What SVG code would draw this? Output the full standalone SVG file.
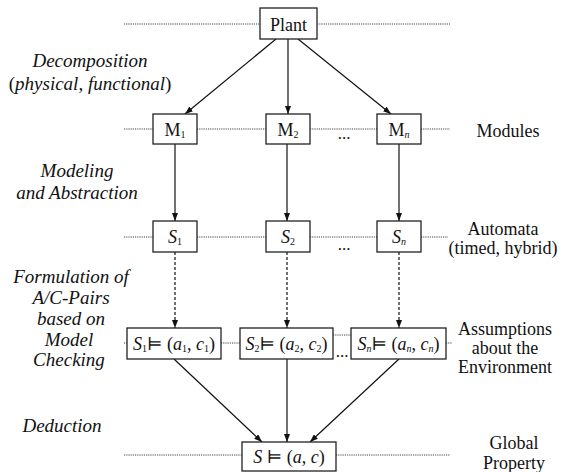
<svg xmlns="http://www.w3.org/2000/svg" width="566" height="472" viewBox="0 0 566 472" font-family="'Liberation Serif', 'Times New Roman', Tinos, 'DejaVu Serif', serif">
<defs>
<marker id="ah" viewBox="0 0 8 6" refX="8" refY="3" markerWidth="8" markerHeight="6" markerUnits="userSpaceOnUse" orient="auto">
<path d="M0,0 L8,3 L0,6 z" fill="#111"/>
</marker>
<style>
.box{fill:#fff;stroke:#222;stroke-width:1.3}
.dot{stroke:#444;stroke-width:1;stroke-dasharray:1.2 1;fill:none}
.sol{stroke:#111;stroke-width:1.2;fill:none;marker-end:url(#ah)}
.dsh{stroke:#111;stroke-width:1.2;fill:none;stroke-dasharray:3 2;marker-end:url(#ah)}
text{fill:#111}
.lab{font-size:19px;font-style:italic;text-anchor:middle}
.rl{font-size:18px;text-anchor:middle}
.nd{font-size:18px;text-anchor:middle}
.it{font-style:italic}
.up{font-style:normal}
.sb{font-size:10px}
</style>
</defs>
<g id="guides">
<path class="dot" d="M124,24H260M317,24H450"/>
<path class="dot" d="M124,129H153M197,129H266M310,129H377M421,129H450"/>
<path class="dot" d="M124,237H153M197,237H266M310,237H377M421,237H448"/>
<path class="dot" d="M124,343H127M221,343H240M333,335H351M446,343H452"/>
<path class="dot" d="M124,455H242M336,455H450"/>
<text x="344" y="139" font-size="17" text-anchor="middle">...</text>
<text x="344" y="250" font-size="17" text-anchor="middle">...</text>
<text x="342" y="357" font-size="17" text-anchor="middle">...</text>
</g>
<g id="connectors">
<path class="sol" d="M276,39L185,114"/>
<path class="sol" d="M288,39V114"/>
<path class="sol" d="M298,39L391,114"/>
<path class="sol" d="M175,144V221"/>
<path class="sol" d="M287,144V221"/>
<path class="sol" d="M399,144V221"/>
<path class="dsh" d="M175,252V328"/>
<path class="dsh" d="M287,252V328"/>
<path class="dsh" d="M399,252V328"/>
<path class="sol" d="M174,359L262,442"/>
<path class="sol" d="M287,359V442"/>
<path class="sol" d="M399,359L310,442"/>
</g>
<g id="plant"><rect class="box" x="260" y="8" width="57" height="31"/><text class="nd" x="288.5" y="31" font-size="19">Plant</text></g>
<g id="m1"><rect class="box" x="153" y="114" width="44" height="30"/><text class="nd" x="175" y="136">M<tspan class="sb" dy="2">1</tspan></text></g>
<g id="m2"><rect class="box" x="266" y="114" width="44" height="30"/><text class="nd" x="288" y="136">M<tspan class="sb" dy="2">2</tspan></text></g>
<g id="mn"><rect class="box" x="377" y="114" width="44" height="30"/><text class="nd" x="399" y="136">M<tspan class="sb it" dy="2">n</tspan></text></g>
<g id="s1"><rect class="box" x="153" y="221" width="44" height="31"/><text class="nd" x="175" y="243"><tspan class="it">S</tspan><tspan class="sb" dy="2">1</tspan></text></g>
<g id="s2"><rect class="box" x="266" y="221" width="44" height="31"/><text class="nd" x="288" y="243"><tspan class="it">S</tspan><tspan class="sb" dy="2">2</tspan></text></g>
<g id="sn"><rect class="box" x="377" y="221" width="44" height="31"/><text class="nd" x="399" y="243"><tspan class="it">S</tspan><tspan class="sb it" dy="2">n</tspan></text></g>
<g id="ac1"><rect class="box" x="127" y="328" width="94" height="31"/><text class="nd" x="174" y="350" font-size="19"><tspan class="it">S</tspan><tspan class="sb" dy="2">1</tspan><tspan dy="-2">⊨ (</tspan><tspan class="it">a</tspan><tspan class="sb" dy="2">1</tspan><tspan dy="-2">, </tspan><tspan class="it">c</tspan><tspan class="sb" dy="2">1</tspan><tspan dy="-2">)</tspan></text></g>
<g id="ac2"><rect class="box" x="240" y="328" width="93" height="31"/><text class="nd" x="286.5" y="350" font-size="19"><tspan class="it">S</tspan><tspan class="sb" dy="2">2</tspan><tspan dy="-2">⊨ (</tspan><tspan class="it">a</tspan><tspan class="sb" dy="2">2</tspan><tspan dy="-2">, </tspan><tspan class="it">c</tspan><tspan class="sb" dy="2">2</tspan><tspan dy="-2">)</tspan></text></g>
<g id="acn"><rect class="box" x="351" y="328" width="95" height="31"/><text class="nd" x="398.5" y="350" font-size="19"><tspan class="it">S</tspan><tspan class="sb it" dy="2">n</tspan><tspan dy="-2">⊨ (</tspan><tspan class="it">a</tspan><tspan class="sb it" dy="2">n</tspan><tspan dy="-2">, </tspan><tspan class="it">c</tspan><tspan class="sb it" dy="2">n</tspan><tspan dy="-2">)</tspan></text></g>
<g id="global"><rect class="box" x="242" y="442" width="94" height="29"/><text class="nd" x="289" y="463" font-size="19"><tspan class="it">S</tspan> ⊨ (<tspan class="it">a</tspan>, <tspan class="it">c</tspan>)</text></g>
<g id="labels">
<text class="lab" x="90" y="67">Decomposition</text>
<text class="lab" x="90" y="90"><tspan class="up">(</tspan>physical, functional<tspan class="up">)</tspan></text>
<text class="lab" x="77" y="177">Modeling</text>
<text class="lab" x="77" y="199">and Abstraction</text>
<text class="lab" x="71" y="283">Formulation of</text>
<text class="lab" x="71" y="304">A/C-Pairs</text>
<text class="lab" x="71" y="325">based on</text>
<text class="lab" x="69" y="346">Model</text>
<text class="lab" x="69" y="366">Checking</text>
<text class="lab" x="62" y="432">Deduction</text>
<text class="rl" x="508" y="137">Modules</text>
<text class="rl" x="503" y="235">Automata</text>
<text class="rl" x="503" y="254">(timed, hybrid)</text>
<text class="rl" x="505" y="335">Assumptions</text>
<text class="rl" x="505" y="354">about the</text>
<text class="rl" x="505" y="373">Environment</text>
<text class="rl" x="514" y="449" font-size="17">Global</text>
<text class="rl" x="514" y="469" font-size="17">Property</text>
</g>
</svg>
